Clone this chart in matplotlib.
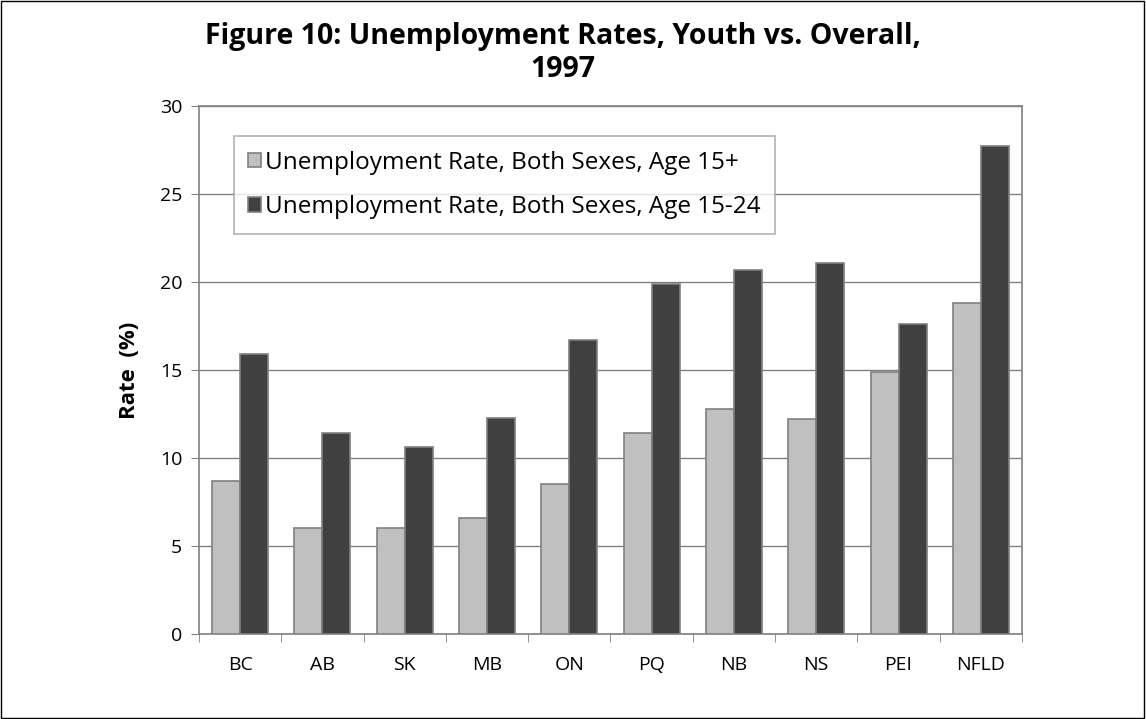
import numpy as np
import matplotlib
matplotlib.use("Agg")
import matplotlib.pyplot as plt
from matplotlib.patches import Rectangle

plt.rcParams['font.family'] = ['Open Sans', 'DejaVu Sans']

# Data
provinces = ['BC', 'AB', 'SK', 'MB', 'ON', 'PQ', 'NB', 'NS', 'PEI', 'NFLD']
rate_15_plus = [8.7, 6.0, 6.0, 6.6, 8.5, 11.4, 12.8, 12.2, 14.9, 18.8]
rate_15_24 = [15.9, 11.4, 10.6, 12.3, 16.7, 19.9, 20.7, 21.1, 17.6, 27.7]
series_labels = ['Unemployment Rate, Both Sexes, Age 15+',
                 'Unemployment Rate, Both Sexes, Age 15-24']


fig = plt.figure(figsize=(11.46, 7.19), dpi=100)
ax = fig.add_axes([0.1736, 0.1182, 0.7182, 0.7344])

x = np.arange(len(provinces))
w = 0.34
ax.bar(x - w / 2, rate_15_plus, w, color='#c0c0c0', edgecolor='#808080',
       linewidth=1.2, label=series_labels[0], zorder=3)
ax.bar(x + w / 2, rate_15_24, w, color='#404040', edgecolor='#808080',
       linewidth=1.2, label=series_labels[1], zorder=3)

ax.set_xlim(-0.5, len(provinces) - 0.5)
ax.set_ylim(0, 30)
ax.set_yticks(range(0, 31, 5))
ax.yaxis.grid(True, color='#808080', linewidth=1.0, zorder=0)
ax.set_xticks(x)
ax.set_xticklabels(provinces, fontsize=14)
ax.set_xticks(np.arange(-0.5, len(provinces)), minor=True)
ax.tick_params(axis='x', which='major', length=0, pad=16)
ax.tick_params(axis='x', which='minor', length=6, color='#808080')
ax.tick_params(axis='y', labelsize=14, length=6, color='#808080', pad=6)
for s in ax.spines.values():
    s.set_color('#808080')
    s.set_linewidth(1.2)

ax.set_ylabel('Rate  (%)', fontsize=16, fontweight='bold', labelpad=14)

leg = ax.legend(loc='upper left', bbox_to_anchor=(0.042, 0.943), fontsize=17.5,
                frameon=True, fancybox=False, handlelength=0.55,
                handleheight=0.55, handletextpad=0.15, borderpad=0.6,
                labelspacing=0.85, borderaxespad=0)
leg.get_frame().set_edgecolor('#a0a0a0')
leg.get_frame().set_linewidth(1.2)

fig.text(0.491, 0.949, 'Figure 10: Unemployment Rates, Youth vs. Overall,',
         ha='center', va='center', fontsize=20.5, fontweight='bold')
fig.text(0.491, 0.903, '1997', ha='center', va='center', fontsize=20.5,
         fontweight='bold')

# thin frame around the whole figure
fig.patches.append(Rectangle((0.001, 0.002), 0.997, 0.996, transform=fig.transFigure,
                             fill=False, edgecolor='black', linewidth=1.0))

fig.savefig('out.png', dpi=100)
